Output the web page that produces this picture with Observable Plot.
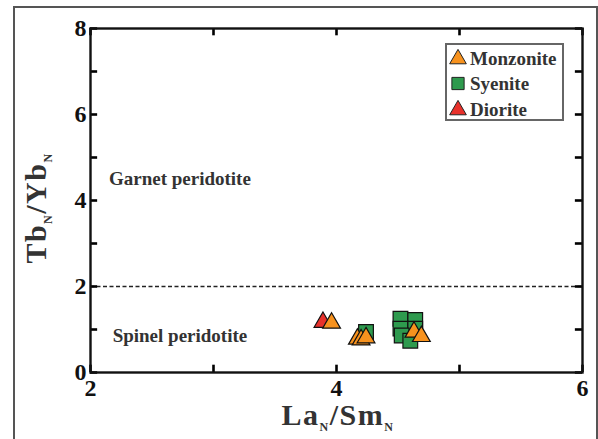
<!DOCTYPE html>
<html>
<head>
<meta charset="utf-8">
<script src="https://cdn.jsdelivr.net/npm/d3@7"></script>
<script src="https://cdn.jsdelivr.net/npm/@observablehq/plot@0.6"></script>
<style>
html,body{margin:0;padding:0;background:#fff;}
#chart svg{display:block;}
</style>
</head>
<body>
<div id="chart"></div>
<script>
// Data
const monzoniteX = [3.96, 4.17, 4.20, 4.24, 4.63, 4.69];
const monzoniteY = [1.15, 0.78, 0.76, 0.81, 0.94, 0.84];
const syeniteX = [4.24, 4.52, 4.64, 4.52, 4.64, 4.53, 4.60];
const syeniteY = [0.94, 1.25, 1.22, 1.02, 1.02, 0.86, 0.74];
const dioriteX = [3.89];
const dioriteY = [1.17];
const xTicks = [2, 3, 4, 5, 6];
const xTickLabels = {2: "2", 4: "4", 6: "6"};
const yTicks = [0, 1, 2, 3, 4, 5, 6, 7, 8];
const yTickLabels = {0: "0", 2: "2", 4: "4", 6: "6", 8: "8"};
const boundaryY = [2];
const fieldLabels = ["Garnet peridotite", "Spinel peridotite"];
const fieldLabelX = [2.15, 2.18];
const fieldLabelY = [4.5, 0.85];
const legendNames = ["Monzonite", "Syenite", "Diorite"];

const colors = {Monzonite: "#F7921E", Syenite: "#2E9A4E", Diorite: "#E8312B"};
const symbols = {Monzonite: "triangle", Syenite: "square", Diorite: "triangle"};

const pts = (name, xv, yv) => xv.map((x, i) => ({rock: name, x, y: yv[i]}));
const syenite = pts("Syenite", syeniteX, syeniteY);
const diorite = pts("Diorite", dioriteX, dioriteY);
const monzonite = pts("Monzonite", monzoniteX, monzoniteY);
const fields = fieldLabels.map((t, i) => ({t, x: fieldLabelX[i], y: fieldLabelY[i]}));

const font = "Liberation Serif";
const tickStroke = {stroke: "#000", strokeWidth: 2.6};

const plot = Plot.plot({
  width: 598,
  height: 439,
  marginLeft: 90,
  marginRight: 16,
  marginTop: 28,
  marginBottom: 67,
  style: {fontFamily: font, background: "#fff", overflow: "visible"},
  x: {domain: [2, 6]},
  y: {domain: [0, 8]},
  marks: [
    Plot.ruleY(boundaryY, {stroke: "#222", strokeWidth: 1.6, strokeDasharray: "4,2.5"}),
    Plot.text(fields, {x: "x", y: "y", text: "t", textAnchor: "start", fontSize: 19, fontWeight: "bold", fill: "#333", fontFamily: font}),
    Plot.dot(syenite, {x: "x", y: "y", symbol: "square", r: 8.3, fill: colors.Syenite, stroke: "#111", strokeWidth: 1.2}),
    Plot.dot(diorite, {x: "x", y: "y", symbol: "triangle", r: 6.6, fill: colors.Diorite, stroke: "#111", strokeWidth: 1.2}),
    Plot.dot(monzonite, {x: "x", y: "y", symbol: "triangle", r: 6.6, fill: colors.Monzonite, stroke: "#111", strokeWidth: 1.2}),
    // inward tick stubs on all four sides, as short rules (lengths in data units ≈ 7px)
    Plot.ruleX(xTicks, {x: d => d, y1: 0, y2: 0.17, ...tickStroke}),
    Plot.ruleX(xTicks, {x: d => d, y1: 8, y2: 7.83, ...tickStroke}),
    Plot.ruleY(yTicks, {y: d => d, x1: 2, x2: 2.058, ...tickStroke}),
    Plot.ruleY(yTicks, {y: d => d, x1: 6, x2: 5.942, ...tickStroke}),
    // tick labels
    Plot.axisX({anchor: "bottom", ticks: xTicks, tickSize: 0, tickPadding: 6, tickFormat: d => xTickLabels[d] ?? "", fontSize: 24, fontWeight: "bold", fill: "#111", label: null, fontFamily: font}),
    Plot.axisY({anchor: "left", ticks: yTicks, tickSize: 0, tickPadding: 4, tickFormat: d => yTickLabels[d] ?? "", fontSize: 24, fontWeight: "bold", fill: "#111", label: null, fontFamily: font}),
    Plot.frame({stroke: "#111", strokeWidth: 2.4})
  ]
});

document.getElementById("chart").appendChild(plot);

const svg = d3.select(plot);

// outer grey border
svg.insert("rect", ":first-child")
  .attr("x", 14).attr("y", 7).attr("width", 583).attr("height", 460)
  .attr("fill", "none").attr("stroke", "#555").attr("stroke-width", 2);

// Axis titles with subscripts
function subLabel(g, parts) {
  let shift = 0;
  parts.forEach(([txt, sub]) => {
    g.append("tspan").text(txt).attr("dy", -shift);
    g.append("tspan").text(sub).attr("font-size", 12).attr("dy", 6);
    shift = 6;
  });
}
const ylab = svg.append("text")
  .attr("transform", "translate(46,208) rotate(-90)")
  .attr("text-anchor", "middle").attr("letter-spacing", 1.5)
  .attr("font-family", font).attr("font-size", 30).attr("font-weight", "bold").attr("fill", "#333");
subLabel(ylab, [["Tb", "N"], ["/Yb", "N"]]);

const xlab = svg.append("text")
  .attr("x", 338).attr("y", 425)
  .attr("text-anchor", "middle").attr("letter-spacing", 1.5)
  .attr("font-family", font).attr("font-size", 30).attr("font-weight", "bold").attr("fill", "#333");
subLabel(xlab, [["La", "N"], ["/Sm", "N"]]);

// Legend (inside plot, top-right)
const lg = svg.append("g");
lg.append("rect").attr("x", 446).attr("y", 44).attr("width", 117).attr("height", 76)
  .attr("fill", "#fff").attr("stroke", "#666").attr("stroke-width", 2);
legendNames.forEach((name, i) => {
  const cy = 58 + i * 25.5;
  const sym = symbols[name] === "square" ? d3.symbolSquare : d3.symbolTriangle;
  const size = symbols[name] === "square" ? 150 : 120;
  lg.append("path").attr("d", d3.symbol(sym, size)())
    .attr("transform", `translate(458,${cy + (symbols[name] === "triangle" ? 1 : 0)})`)
    .attr("fill", colors[name]).attr("stroke", "#222").attr("stroke-width", 1);
  lg.append("text").attr("x", 470).attr("y", cy).attr("dy", "0.35em")
    .attr("text-anchor", "start")
    .attr("font-family", font).attr("font-size", 19).attr("font-weight", "bold").attr("fill", "#333")
    .text(name);
});
</script>
</body>
</html>
